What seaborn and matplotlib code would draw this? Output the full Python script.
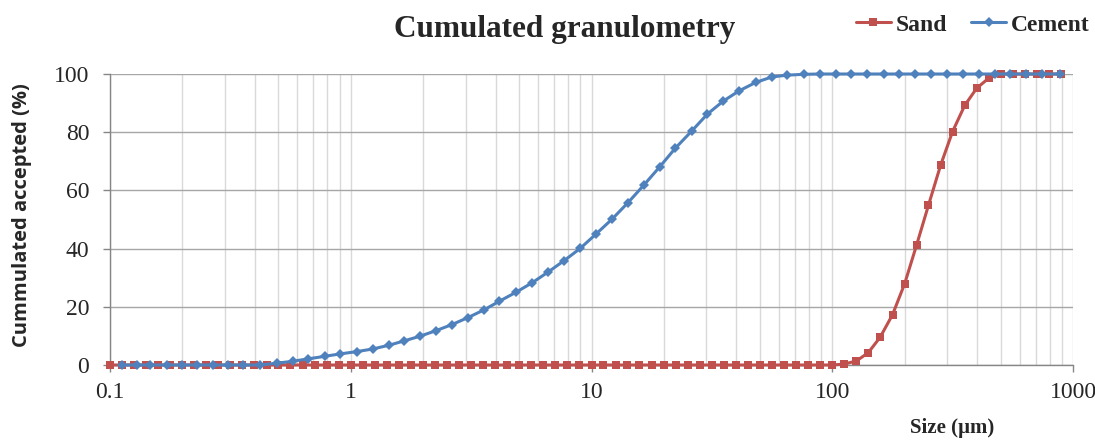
import matplotlib
matplotlib.use('Agg')
import matplotlib.pyplot as plt
import matplotlib.ticker as mticker
import pandas as pd
import seaborn as sns

# size classes (um) and cumulated % passing
sand_size = [0.1, 0.112, 0.126, 0.141, 0.158, 0.178, 0.2, 0.224, 0.251, 0.282,
             0.316, 0.355, 0.398, 0.447, 0.501, 0.562, 0.631, 0.708, 0.794, 0.891,
             1.0, 1.12, 1.26, 1.41, 1.58, 1.78, 2.0, 2.24, 2.51, 2.82,
             3.16, 3.55, 3.98, 4.47, 5.01, 5.62, 6.31, 7.08, 7.94, 8.91,
             10.0, 11.2, 12.6, 14.1, 15.8, 17.8, 20.0, 22.4, 25.1, 28.2,
             31.6, 35.5, 39.8, 44.7, 50.1, 56.2, 63.1, 70.8, 79.4, 89.1,
             100, 112, 126, 141, 158, 178, 200, 224, 251, 282,
             316, 355, 398, 447, 501, 562, 631, 708, 794, 891]
sand_pct = [0.0] * 61 + [0.3, 1.4, 4.2, 9.5, 17.3, 28.0, 41.2, 54.9, 68.7, 80.2,
                         89.2, 95.1, 98.6, 100, 100, 100, 100, 100, 100]

cement_size = [0.112, 0.129, 0.147, 0.172, 0.199, 0.229, 0.268, 0.309, 0.357, 0.420,
               0.492, 0.576, 0.664, 0.782, 0.902, 1.058, 1.234, 1.442, 1.669, 1.940,
               2.260, 2.634, 3.069, 3.587, 4.140, 4.858, 5.678, 6.617, 7.709, 8.985,
               10.44, 12.20, 14.18, 16.53, 19.25, 22.29, 26.15, 30.27, 35.27, 41.01,
               48.08, 56.19, 65.07, 76.32, 88.71, 103.3, 120.0, 139.8, 163.6, 189.4,
               221.3, 257.2, 300.6, 350.3, 407.0, 474.3, 547.4, 636.1, 745.6, 883.1]
cement_pct = [0, 0, 0, 0, 0, 0, 0, 0, 0, 0,
              0.6, 1.3, 2.1, 3.0, 3.8, 4.6, 5.5, 6.8, 8.3, 9.9,
              11.8, 13.9, 16.3, 19.0, 21.9, 25.0, 28.3, 32.0, 35.9, 40.1,
              45.0, 50.2, 55.8, 61.9, 68.2, 74.5, 80.5, 86.2, 90.7, 94.2,
              97.1, 99.0, 99.6, 99.9, 100, 100, 100, 100, 100, 100,
              100, 100, 100, 100, 100, 100, 100, 100, 100, 100]

x_ticks = [0.1, 1, 10, 100, 1000]
x_tick_labels = ['0.1', '1', '10', '100', '1000']
y_ticks = [0, 20, 40, 60, 80, 100]

sns.set_style('white')
plt.rcParams['font.family'] = ['Liberation Serif', 'DejaVu Serif']

sand = pd.DataFrame({'size': sand_size, 'pct': sand_pct})
cement = pd.DataFrame({'size': cement_size, 'pct': cement_pct})

fig = plt.figure(figsize=(10.95, 4.42), dpi=100)
ax = fig.add_axes([110 / 1095, 1 - 365 / 442, 963 / 1095, 291 / 442])

sns.lineplot(data=sand, x='size', y='pct', ax=ax, color='#C0504D', lw=2.2,
             marker='s', markersize=6, markeredgewidth=0, label='Sand',
             clip_on=False, zorder=4)
sns.lineplot(data=cement, x='size', y='pct', ax=ax, color='#4F81BD', lw=2.2,
             marker='D', markersize=5, markeredgewidth=0, label='Cement',
             clip_on=False, zorder=5)

ax.set_xscale('log')
ax.set_xlim(0.1, 1000)
ax.set_ylim(0, 100)
ax.set_xticks(x_ticks)
ax.set_xticklabels(x_tick_labels)
ax.xaxis.set_minor_locator(mticker.LogLocator(base=10, subs=range(2, 10), numticks=20))
ax.xaxis.set_minor_formatter(mticker.NullFormatter())
ax.set_yticks(y_ticks)

ax.grid(which='major', axis='y', color='#A6A6A6', lw=1)
ax.grid(which='both', axis='x', color='#D9D9D9', lw=1)
ax.set_axisbelow(True)

ax.tick_params(axis='x', which='major', direction='out', length=5, width=1,
               color='#868686', labelsize=17, pad=7, bottom=True)
ax.tick_params(axis='x', which='minor', length=0)
ax.tick_params(axis='y', direction='out', length=5, width=1, color='#868686',
               labelsize=17, pad=10, left=True)

for s in ['top', 'right']:
    ax.spines[s].set_visible(False)
for s in ['left', 'bottom']:
    ax.spines[s].set_color('#868686')
    ax.spines[s].set_linewidth(1)

ax.set_xlabel('')
ax.set_ylabel('')

handles, labels = ax.get_legend_handles_labels()
ax.get_legend().remove()
fig.legend(handles, labels, loc='upper right', bbox_to_anchor=(1.006, 0.995),
           ncol=2, frameon=False, handlelength=1.5, handletextpad=0.2,
           columnspacing=1.0, borderaxespad=0.1,
           prop={'family': 'Liberation Serif', 'weight': 'bold', 'size': 17})

fig.text(565 / 1095, 1 - 29 / 442, 'Cumulated granulometry', ha='center', va='center',
         fontsize=22.5, fontweight='bold')
fig.text(952 / 1095, 1 - 428 / 442, 'Size (µm)', ha='center', va='center',
         fontsize=15, fontweight='bold')
fig.text(22 / 1095, 1 - 215 / 442, 'Cummulated accepted (%)', rotation=90,
         ha='center', va='center', fontsize=14.5, fontweight='bold', family='Open Sans')

fig.savefig('out.png', dpi=100)
